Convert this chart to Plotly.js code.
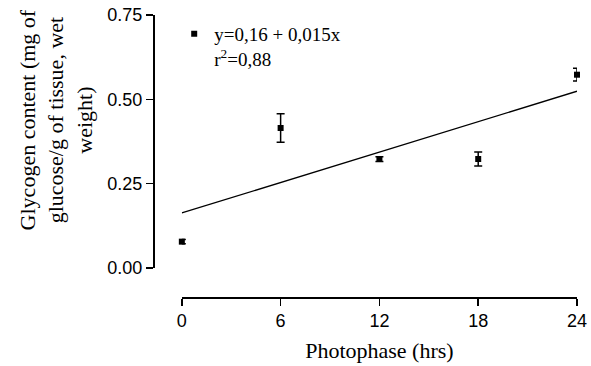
<!DOCTYPE html>
<html>
<head>
<meta charset="utf-8">
<script src="https://cdn.plot.ly/plotly-3.0.1.min.js"></script>
<style>html,body{margin:0;padding:0;background:#fff;}#chart{width:591px;height:366px;}</style>
</head>
<body>
<div id="chart"></div>
<script>
// Data
var hours = [0, 6, 12, 18, 24];
var glycogen = [0.078, 0.415, 0.323, 0.323, 0.573];
var glycogenErr = [0.006, 0.042, 0.007, 0.021, 0.019];
var fitHours = [0, 24];
var fitValues = [0.163, 0.524];
var xTicks = [0, 6, 12, 18, 24];
var yTicks = [0, 0.25, 0.5, 0.75];
var legendLabel = 'y=0,16 + 0,015x<br>r<sup>2</sup>=0,88';
var xTitle = 'Photophase (hrs)';
var yTitle = 'Glycogen content (mg of<br>glucose/g of tissue, wet<br>weight)';

var serif = 'Liberation Serif, Times New Roman, serif';
var sans = 'Liberation Sans, Arial, sans-serif';

var traces = [
  {
    x: fitHours, y: fitValues, mode: 'lines', type: 'scatter',
    line: {color: '#000', width: 1.3}, showlegend: false, hoverinfo: 'skip'
  },
  {
    x: hours, y: glycogen, mode: 'markers', type: 'scatter',
    name: legendLabel,
    marker: {symbol: 'square', size: 6, color: '#000'},
    error_y: {type: 'data', array: glycogenErr, visible: true, color: '#000', thickness: 1.5, width: 4},
    cliponaxis: false
  }
];

var layout = {
  width: 591, height: 366,
  margin: {l: 153, r: 14, t: 15, b: 69},
  paper_bgcolor: '#fff', plot_bgcolor: '#fff',
  font: {family: sans, color: '#000'},
  showlegend: true,
  legend: {
    x: 0.05, xanchor: 'left', y: 1.0, yanchor: 'top',
    bgcolor: 'rgba(0,0,0,0)', valign: 'top',
    font: {family: serif, size: 19, color: '#000'}
  },
  xaxis: {
    anchor: 'free', position: 0, domain: [0.068, 1],
    range: [0, 24], tickvals: xTicks, ticktext: xTicks.map(String),
    showline: true, linecolor: '#000', linewidth: 1.5,
    ticks: 'outside', ticklen: 7, tickwidth: 1.5, tickcolor: '#000',
    showgrid: false, zeroline: false,
    tickfont: {family: sans, size: 18, color: '#000'},
    title: {text: xTitle, font: {family: serif, size: 22, color: '#000'}, standoff: 12}
  },
  yaxis: {
    anchor: 'free', position: 0, domain: [0.103, 1],
    range: [0, 0.75], tickvals: yTicks, tickformat: '.2f',
    showline: true, linecolor: '#000', linewidth: 1.5,
    ticks: 'outside', ticklen: 7, tickwidth: 1.5, tickcolor: '#000',
    showgrid: false, zeroline: false,
    tickfont: {family: sans, size: 18, color: '#000'}
  },
  annotations: [{
    text: yTitle, xref: 'paper', yref: 'paper',
    x: -0.23, y: 0.628, xanchor: 'center', yanchor: 'middle',
    textangle: -90, showarrow: false, align: 'center',
    font: {family: serif, size: 22, color: '#000'}
  }]
};

Plotly.newPlot('chart', traces, layout, {displayModeBar: false, staticPlot: true});
</script>
</body>
</html>
